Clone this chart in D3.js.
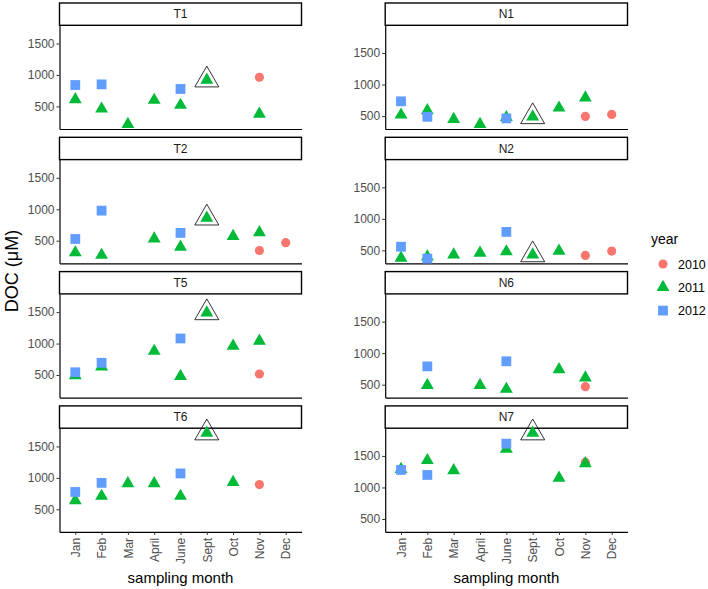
<!DOCTYPE html>
<html lang="en">
<head>
  <meta charset="UTF-8">
  <title>DOC by sampling month</title>
  <style>
    body { margin: 0; background: #fff; font-family: "Liberation Sans", Arial, sans-serif; }
    svg { display: block; }
    .tick text { fill: #4d4d4d; font-size: 12px; }
    .tick line { stroke: #333; }
  </style>
  <script src="https://d3js.org/d3.v7.min.js"></script>
</head>
<body>
<svg width="708" height="589"></svg>
<script>
  const months = ["Jan", "Feb", "Mar", "April", "June", "Sept", "Oct", "Nov", "Dec"];
  const panels = ["T1", "N1", "T2", "N2", "T5", "N6", "T6", "N7"];
  const years = ["2010", "2011", "2012"];
  const yTicks = [500, 1000, 1500];

  // one row per panel (same order as panels), one value per month, null = no sample
  const doc2010 = [
    [null, null, null, null, null, null, null, 963, null],
    [null, null, null, null, null, null, null, 495, 527],
    [null, null, null, null, null, null, null, 344, 468],
    [null, null, null, null, null, null, null, 420, 489],
    [null, null, null, null, null, null, null, 516, null],
    [null, null, null, null, null, null, null, 468, null],
    [null, null, null, null, null, null, null, 893, null],
    [null, null, null, null, null, null, null, 1401, null]
  ];
  const doc2011 = [
    [610, 460, 215, 600, 520, 920, null, 380, null],
    [520, 590, 450, 370, 480, 490, 630, 790, null],
    [310, 270, null, 530, 400, 860, 570, 630, null],
    [380, 400, 430, 460, 480, 430, 490, null, null],
    [490, 630, null, 880, 480, 1490, 960, 1040, null],
    [null, 490, null, 490, 430, null, 740, 610, null],
    [640, 710, 910, 910, 710, 1715, 930, null, null],
    [1290, 1430, 1270, null, 1610, 1865, 1150, 1380, null]
  ];
  const doc2012 = [
    [840, 850, null, null, 777, null, null, null, null],
    [734, 489, null, null, 463, null, null, null, null],
    [527, 978, null, null, 624, null, null, null, null],
    [558, 370, null, null, 793, null, null, null, null],
    [543, 694, null, null, 1081, null, null, null, null],
    [null, 790, null, null, 871, null, null, null, null],
    [775, 920, null, null, 1070, null, null, null, null],
    [1278, 1198, null, null, 1695, null, null, null, null]
  ];
  // panels where the September sample is highlighted
  const highlighted = ["T1", "N1", "T2", "N2", "T5", "T6", "N7"];

  const colors = { "2010": "#F8766D", "2011": "#00BA38", "2012": "#619CFF" };
  const shapes = { "2010": d3.symbolCircle, "2011": d3.symbolTriangle, "2012": d3.symbolSquare };
  const sizes = { "2010": 66, "2011": 72, "2012": 96 };

  const svg = d3.select("svg");

  const colRange = [[59.5, 301.5], [385.2, 627.5]];
  const stripH = 22.3, plotH = 103.7, rowStep = 134.3, top0 = 3;

  // flatten into points
  const series = { "2010": doc2010, "2011": doc2011, "2012": doc2012 };
  const points = [];
  years.forEach(yr => {
    series[yr].forEach((row, pi) => {
      row.forEach((v, mi) => {
        if (v !== null) points.push({ panel: panels[pi], col: pi % 2, month: months[mi], year: yr, value: v });
      });
    });
  });

  // y scale shared per column, data extent expanded by 5%
  const yDomains = [0, 1].map(c => {
    const ext = d3.extent(points.filter(p => p.col === c), p => p.value);
    const pad = (ext[1] - ext[0]) * 0.05;
    return [ext[0] - pad, ext[1] + pad];
  });

  panels.forEach((name, pi) => {
    const col = pi % 2, row = Math.floor(pi / 2);
    const stripTop = top0 + row * rowStep;
    const plotTop = stripTop + stripH;
    const plotBottom = plotTop + plotH;

    const x = d3.scalePoint().domain(months).range(colRange[col]).padding(0.6);
    const y = d3.scaleLinear().domain(yDomains[col]).range([plotBottom, plotTop]);

    const g = svg.append("g");

    // y axis
    const ya = g.append("g")
      .attr("transform", `translate(${colRange[col][0]},0)`)
      .call(d3.axisLeft(y).tickValues(yTicks).tickFormat(d3.format("d"))
        .tickSizeInner(3).tickSizeOuter(0).tickPadding(2));
    ya.select(".domain").attr("stroke", "#000").attr("stroke-width", 1.2);

    // x axis, labels only on bottom row
    const xa = g.append("g")
      .attr("transform", `translate(0,${plotBottom})`)
      .call(d3.axisBottom(x).tickSizeInner(row === 3 ? 3 : 0).tickSizeOuter(0)
        .tickFormat(row === 3 ? null : ""));
    xa.select(".domain").attr("stroke", "#000").attr("stroke-width", 1.2);
    if (row === 3) {
      xa.selectAll(".tick text")
        .attr("transform", "rotate(-90)")
        .attr("text-anchor", "end")
        .attr("x", -6)
        .attr("y", 0)
        .attr("dy", "0.35em");
    }

    // strip
    g.append("rect")
      .attr("x", colRange[col][0])
      .attr("y", stripTop)
      .attr("width", colRange[col][1] - colRange[col][0])
      .attr("height", stripH)
      .attr("fill", "#fff")
      .attr("stroke", "#000")
      .attr("stroke-width", 1.4);
    g.append("text")
      .attr("x", (colRange[col][0] + colRange[col][1]) / 2)
      .attr("y", stripTop + stripH / 2)
      .attr("dy", "0.36em")
      .attr("text-anchor", "middle")
      .attr("fill", "#1a1a1a")
      .style("font-size", "12px")
      .text(name);

    // points
    g.append("g").selectAll("path")
      .data(points.filter(p => p.panel === name))
      .join("path")
        .attr("transform", d => `translate(${x(d.month)},${y(d.value)})`)
        .attr("d", d => d3.symbol(shapes[d.year], sizes[d.year])())
        .attr("fill", d => colors[d.year]);

    // highlighted September sample
    if (highlighted.includes(name)) {
      const sep = points.find(p => p.panel === name && p.year === "2011" && p.month === "Sept");
      g.append("path")
        .attr("transform", `translate(${x(sep.month)},${y(sep.value)})`)
        .attr("d", d3.symbol(d3.symbolTriangle, 250)())
        .attr("fill", "none")
        .attr("stroke", "#000")
        .attr("stroke-width", 0.8);
    }
  });

  // axis titles
  svg.append("text")
    .attr("transform", "translate(18,271) rotate(-90)")
    .attr("text-anchor", "middle")
    .style("font-size", "18px")
    .text("DOC (\u03BCM)");

  colRange.forEach(r => {
    svg.append("text")
      .attr("x", (r[0] + r[1]) / 2)
      .attr("y", 583)
      .attr("text-anchor", "middle")
      .style("font-size", "15px")
      .text("sampling month");
  });

  // legend
  const legend = svg.append("g").attr("transform", "translate(651,0)");
  legend.append("text")
    .attr("x", 0).attr("y", 244)
    .style("font-size", "14px")
    .text("year");
  years.forEach((yr, i) => {
    const cy = 264 + i * 23.3;
    legend.append("path")
      .attr("transform", `translate(12,${cy})`)
      .attr("d", d3.symbol(shapes[yr], sizes[yr])())
      .attr("fill", colors[yr]);
    legend.append("text")
      .attr("x", 27).attr("y", cy)
      .attr("dy", "0.36em")
      .style("font-size", "12.5px")
      .text(yr);
  });
</script>
</body>
</html>
